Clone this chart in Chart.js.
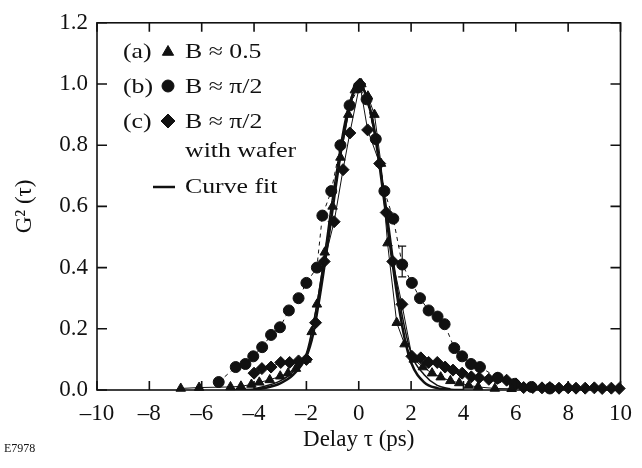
<!DOCTYPE html>
<html>
<head>
<meta charset="utf-8">
<script src="https://cdn.jsdelivr.net/npm/chart.js@4.4.0/dist/chart.umd.min.js"></script>
<style>
  html, body { margin: 0; padding: 0; background: #fff; }
  #wrap { position: relative; width: 642px; height: 468px; }
</style>
</head>
<body>
<div id="wrap"><canvas id="chart"></canvas></div>
<script>
// -------------------------------------------------------------
// Values (delay in ps, normalised G2)
// -------------------------------------------------------------
const xTicks = [-10, -8, -6, -4, -2, 0, 2, 4, 6, 8, 10]
const yTicks = [0, 0.2, 0.4, 0.6, 0.8, 1.0, 1.2]

// (a) triangles, B ~ 0.5
const triX = [-6.8, -6.1, -4.9, -4.5, -4.1, -3.8, -3.4, -3.0, -2.7, -2.4, -2.0, -1.8, -1.6, -1.3, -1.0, -0.7, -0.4, -0.15,
  0.1, 0.35, 0.6, 0.85, 1.1, 1.45, 1.75, 2.1, 2.45, 2.8, 3.13, 3.5, 3.84, 4.2, 4.56, 5.2, 5.84]
const triY = [0.005, 0.008, 0.01, 0.012, 0.018, 0.025, 0.033, 0.045, 0.055, 0.07, 0.10, 0.19, 0.28, 0.45, 0.60, 0.76, 0.90, 0.98,
  1.0, 0.96, 0.90, 0.74, 0.48, 0.22, 0.15, 0.10, 0.075, 0.055, 0.042, 0.03, 0.023, 0.015, 0.01, 0.005, 0.004]

// (b) circles, B ~ pi/2
const circX = [-5.35, -4.7, -4.33, -4.03, -3.69, -3.35, -3.01, -2.67, -2.3, -2.0, -1.6, -1.39, -1.05, -0.7, -0.35, 0.0,
  0.3, 0.65, 0.98, 1.32, 1.66, 2.03, 2.34, 2.67, 3.01, 3.28, 3.65, 3.95, 4.29, 4.63, 5.31, 5.95, 6.6, 7.3]
const circY = [0.026, 0.075, 0.085, 0.11, 0.14, 0.18, 0.205, 0.26, 0.30, 0.35, 0.40, 0.57, 0.65, 0.80, 0.93, 0.99,
  0.95, 0.82, 0.65, 0.56, 0.41, 0.35, 0.30, 0.26, 0.24, 0.215, 0.137, 0.11, 0.085, 0.075, 0.04, 0.02, 0.01, 0.005]

// (c) diamonds, B ~ pi/2 with wafer
const diaX = [-4.0, -3.7, -3.35, -2.98, -2.64, -2.3, -2.0, -1.65, -1.32, -0.94, -0.6, -0.34, 0.04, 0.34, 0.8, 1.05, 1.3, 1.65,
  2.03, 2.37, 2.67, 3.0, 3.3, 3.6, 3.95, 4.3, 4.6, 4.97, 5.3, 5.65, 6.0, 6.3, 6.65, 7.0, 7.3, 7.65, 8.0, 8.3, 8.65, 9.0, 9.3, 9.65, 9.95]
const diaY = [0.055, 0.07, 0.075, 0.09, 0.09, 0.095, 0.10, 0.22, 0.42, 0.55, 0.72, 0.84, 1.0, 0.85, 0.74, 0.58, 0.42, 0.28,
  0.11, 0.105, 0.09, 0.09, 0.075, 0.065, 0.055, 0.043, 0.04, 0.035, 0.038, 0.032, 0.02, 0.008, 0.008, 0.007, 0.008, 0.006, 0.007, 0.006, 0.006, 0.007, 0.005, 0.006, 0.005]

// solid curve fits
const fitX = [-5, -4, -3.5, -3, -2.5, -2, -1.75, -1.5, -1.25, -1, -0.75, -0.5, -0.25, 0, 0.25, 0.5, 0.75, 1, 1.25, 1.5, 1.75, 2, 2.5, 3, 3.5, 4]
const fitY = [0, 0.002, 0.008, 0.022, 0.05, 0.11, 0.18, 0.30, 0.44, 0.59, 0.74, 0.87, 0.96, 1.0, 0.97, 0.89, 0.76, 0.60, 0.44, 0.29, 0.17, 0.09, 0.025, 0.006, 0.001, 0]
const fit2X = [-4, -3, -2.5, -2, -1.5, -1, -0.5, 0, 0.5, 1, 1.5, 2, 2.5, 3, 3.5]
const fit2Y = [0.003, 0.03, 0.06, 0.12, 0.33, 0.63, 0.89, 1.0, 0.9, 0.63, 0.32, 0.12, 0.05, 0.015, 0.004]

// single error bar on curve (b)
const errX = [1.66]
const errLo = [0.37]
const errHi = [0.47]

const INK = '#111'
const SERIF = '"Liberation Serif", "Times New Roman", serif'

const pts = (xs, ys) => xs.map((x, i) => ({ x, y: ys[i] }))

// -------------------------------------------------------------
// Plugins: boxed frame with inward ticks, error bar, legend text
// -------------------------------------------------------------
const frame = {
  id: 'frame',
  afterDatasetsDraw(chart) {
    const { ctx, chartArea: a, scales: { x, y } } = chart
    ctx.save()
    ctx.strokeStyle = INK
    ctx.lineWidth = 1.6
    ctx.strokeRect(a.left, a.top, a.right - a.left, a.bottom - a.top)
    ctx.beginPath()
    xTicks.forEach(v => {
      const px = x.getPixelForValue(v)
      ctx.moveTo(px, a.bottom); ctx.lineTo(px, a.bottom - 9)
      ctx.moveTo(px, a.top); ctx.lineTo(px, a.top + 9)
    })
    yTicks.forEach(v => {
      const py = y.getPixelForValue(v)
      ctx.moveTo(a.left, py); ctx.lineTo(a.left + 10, py)
      ctx.moveTo(a.right, py); ctx.lineTo(a.right - 10, py)
    })
    ctx.stroke()

    ctx.lineWidth = 1.2
    ctx.beginPath()
    errX.forEach((v, i) => {
      const px = x.getPixelForValue(v)
      const lo = y.getPixelForValue(errLo[i])
      const hi = y.getPixelForValue(errHi[i])
      ctx.moveTo(px, lo); ctx.lineTo(px, hi)
      ctx.moveTo(px - 4, lo); ctx.lineTo(px + 4, lo)
      ctx.moveTo(px - 4, hi); ctx.lineTo(px + 4, hi)
    })
    ctx.stroke()
    ctx.restore()
  }
}

function wideText(ctx, text, x, y) {
  ctx.save()
  ctx.translate(x, y)
  ctx.scale(1.2, 1)
  ctx.fillText(text, 0, 0)
  ctx.restore()
}

const legendBox = {
  id: 'legendBox',
  afterDraw(chart) {
    const ctx = chart.ctx
    const drawPoint = Chart.helpers.drawPoint
    ctx.save()
    ctx.fillStyle = INK
    ctx.strokeStyle = INK
    ctx.font = '21.5px ' + SERIF
    ctx.textBaseline = 'alphabetic'
    wideText(ctx, '(a)', 123, 58)
    wideText(ctx, 'B \u2248 0.5', 185, 58)
    wideText(ctx, '(b)', 123, 93)
    wideText(ctx, 'B \u2248 \u03c0/2', 185, 93)
    wideText(ctx, '(c)', 123, 128)
    wideText(ctx, 'B \u2248 \u03c0/2', 185, 128)
    wideText(ctx, 'with wafer', 185, 157)
    wideText(ctx, 'Curve fit', 185, 193)
    drawPoint(ctx, { pointStyle: 'triangle', radius: 6.5, borderWidth: 1 }, 168, 52)
    drawPoint(ctx, { pointStyle: 'circle', radius: 6, borderWidth: 1 }, 168, 86)
    drawPoint(ctx, { pointStyle: 'rectRot', radius: 7, borderWidth: 1 }, 168, 121)
    ctx.lineWidth = 2.5
    ctx.beginPath(); ctx.moveTo(153, 187); ctx.lineTo(175, 187); ctx.stroke()

    ctx.font = '12px ' + SERIF
    ctx.fillText('E7978', 4, 452)
    ctx.restore()
  }
}

// -------------------------------------------------------------
// Chart
// -------------------------------------------------------------
const marker = (style, r) => ({
  pointStyle: style, pointRadius: r, pointBackgroundColor: INK, pointBorderColor: INK,
  pointBorderWidth: 1, borderColor: INK, clip: false, showLine: true
})

new Chart(document.getElementById('chart'), {
  type: 'scatter',
  data: {
    datasets: [
      { label: 'fit', data: pts(fitX, fitY), showLine: true, borderColor: INK, borderWidth: 2.5, pointRadius: 0, cubicInterpolationMode: 'monotone' },
      { label: 'fit2', data: pts(fit2X, fit2Y), showLine: true, borderColor: INK, borderWidth: 1.5, pointRadius: 0, cubicInterpolationMode: 'monotone' },
      { label: '(a)', data: pts(triX, triY), ...marker('triangle', 5.5), borderWidth: 1 },
      { label: '(b)', data: pts(circX, circY), ...marker('circle', 5.5), borderWidth: 1, borderDash: [4, 4] },
      { label: '(c)', data: pts(diaX, diaY), ...marker('rectRot', 6), borderWidth: 1 }
    ]
  },
  options: {
    responsive: true,
    maintainAspectRatio: false,
    animation: false,
    events: [],
    layout: { padding: { left: 0, top: 22, right: 14, bottom: 0 } },
    plugins: { legend: { display: false }, tooltip: { enabled: false } },
    scales: {
      x: {
        type: 'linear', min: -10, max: 10,
        afterBuildTicks: s => { s.ticks = xTicks.map(v => ({ value: v })) },
        afterFit: s => { s.height = 78 },
        grid: { display: false, drawTicks: false },
        border: { display: false },
        ticks: { color: INK, padding: 10, font: { family: SERIF, size: 23 }, maxRotation: 0,
          callback: v => String(v).replace('-', '\u2013') },
        title: { display: true, text: 'Delay \u03c4 (ps)', color: INK, font: { family: SERIF, size: 23 }, padding: { top: 0, bottom: 14 } }
      },
      y: {
        type: 'linear', min: 0, max: 1.2,
        afterBuildTicks: s => { s.ticks = yTicks.map(v => ({ value: v })) },
        afterFit: s => { s.width = 97 },
        grid: { display: false, drawTicks: false },
        border: { display: false },
        ticks: { color: INK, padding: 9, font: { family: SERIF, size: 23 }, callback: v => Number(v).toFixed(1) },
        title: { display: true, text: 'G\u00b2 (\u03c4)', color: INK, font: { family: SERIF, size: 23 }, padding: { top: 11, bottom: 0 } }
      }
    }
  },
  plugins: [frame, legendBox]
})
</script>
</body>
</html>
